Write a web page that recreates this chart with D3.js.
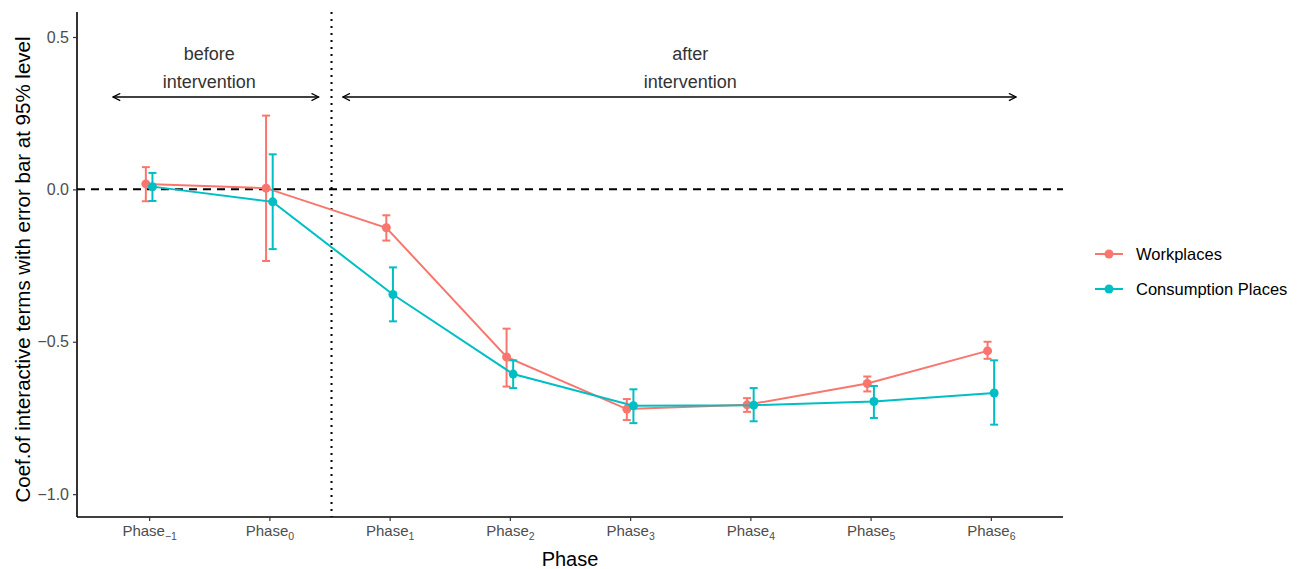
<!DOCTYPE html>
<html>
<head>
<meta charset="utf-8">
<script src="https://cdn.jsdelivr.net/npm/d3@7"></script>
<style>
  body { margin: 0; background: #fff; }
  svg { font-family: "Liberation Sans", Arial, sans-serif; }
</style>
</head>
<body>
<div id="chart"></div>
<script>
// categories and subscripts
var phases = ["-1", "0", "1", "2", "3", "4", "5", "6"];
var phaseSubs = ["\u22121", "0", "1", "2", "3", "4", "5", "6"];

// Workplaces: estimate, lower, upper
var workEst = [0.018, 0.004, -0.126, -0.550, -0.721, -0.707, -0.637, -0.530];
var workLo  = [-0.039, -0.235, -0.168, -0.647, -0.757, -0.730, -0.663, -0.556];
var workHi  = [0.073, 0.242, -0.085, -0.457, -0.688, -0.685, -0.614, -0.500];

// Consumption Places
var consEst = [0.009, -0.041, -0.345, -0.606, -0.710, -0.708, -0.696, -0.668];
var consLo  = [-0.038, -0.196, -0.433, -0.652, -0.767, -0.761, -0.750, -0.772];
var consHi  = [0.054, 0.115, -0.256, -0.561, -0.656, -0.652, -0.645, -0.561];

var seriesNames = ["Workplaces", "Consumption Places"];
var seriesColors = ["#F8766D", "#00BFC4"];
var yTicks = [0.5, 0.0, -0.5, -1.0];

var width = 1299, height = 569;
var pLeft = 77, pRight = 1063, pTop = 12, pBottom = 517;

var svg = d3.select("#chart").append("svg")
  .attr("width", width)
  .attr("height", height);

// x: discrete positions with ggplot-like 0.6 expansion
var x = d3.scaleLinear()
  .domain([-0.6, phases.length - 1 + 0.6])
  .range([pLeft, pRight]);

var y = d3.scaleLinear()
  .domain([-1.075, 0.582])
  .range([pBottom, pTop]);

var dodge = 3.3;

var series = [
  {name: seriesNames[0], color: seriesColors[0], est: workEst, lo: workLo, hi: workHi, off: -dodge},
  {name: seriesNames[1], color: seriesColors[1], est: consEst, lo: consLo, hi: consHi, off: dodge}
];

// reference lines
svg.append("line")
  .attr("x1", pLeft).attr("x2", pRight)
  .attr("y1", y(0)).attr("y2", y(0))
  .attr("stroke", "#000").attr("stroke-width", 2)
  .attr("stroke-dasharray", "8,6");

svg.append("line")
  .attr("x1", x(1.5) + 2).attr("x2", x(1.5) + 2)
  .attr("y1", pTop).attr("y2", pBottom)
  .attr("stroke", "#000").attr("stroke-width", 2)
  .attr("stroke-dasharray", "2,5");

// series
series.forEach(function(s) {
  var g = svg.append("g");
  var pts = phases.map(function(p, i) {
    return {i: i, est: s.est[i], lo: s.lo[i], hi: s.hi[i]};
  });

  var line = d3.line()
    .x(d => x(d.i) + s.off)
    .y(d => y(d.est));

  g.append("path")
    .datum(pts)
    .attr("d", line)
    .attr("fill", "none")
    .attr("stroke", s.color)
    .attr("stroke-width", 2);

  var eb = g.selectAll(".eb").data(pts).enter().append("g");
  eb.append("line")
    .attr("x1", d => x(d.i) + s.off).attr("x2", d => x(d.i) + s.off)
    .attr("y1", d => y(d.lo)).attr("y2", d => y(d.hi))
    .attr("stroke", s.color).attr("stroke-width", 2);
  eb.append("line")
    .attr("x1", d => x(d.i) + s.off - 4).attr("x2", d => x(d.i) + s.off + 4)
    .attr("y1", d => y(d.lo)).attr("y2", d => y(d.lo))
    .attr("stroke", s.color).attr("stroke-width", 2);
  eb.append("line")
    .attr("x1", d => x(d.i) + s.off - 4).attr("x2", d => x(d.i) + s.off + 4)
    .attr("y1", d => y(d.hi)).attr("y2", d => y(d.hi))
    .attr("stroke", s.color).attr("stroke-width", 2);

  g.selectAll("circle").data(pts).enter().append("circle")
    .attr("cx", d => x(d.i) + s.off)
    .attr("cy", d => y(d.est))
    .attr("r", 4.5)
    .attr("fill", s.color);
});

// axes
var yAxis = d3.axisLeft(y).tickValues(yTicks).tickSize(4).tickPadding(4)
  .tickFormat(d => d3.format(".1f")(d).replace("-", "\u2212"));
var gy = svg.append("g").attr("transform", "translate(" + pLeft + ",0)").call(yAxis);
gy.select(".domain").attr("d", "M0," + pTop + "V" + pBottom).attr("stroke", "#000").attr("stroke-width", 1.6);
gy.selectAll(".tick line").attr("stroke", "#333").attr("stroke-width", 1.2);
gy.selectAll(".tick text").attr("fill", "#4D4D4D").style("font-size", "16px")
  .style("font-family", "'Liberation Sans', Arial, sans-serif");

var xAxis = d3.axisBottom(x).tickValues(d3.range(phases.length)).tickSize(4).tickPadding(4)
  .tickFormat(() => "");
var gx = svg.append("g").attr("transform", "translate(0," + pBottom + ")").call(xAxis);
gx.select(".domain").attr("d", "M" + pLeft + ",0H" + pRight).attr("stroke", "#000").attr("stroke-width", 1.6);
gx.selectAll(".tick line").attr("stroke", "#333").attr("stroke-width", 1.2);
gx.selectAll(".tick text").each(function(d) {
  var t = d3.select(this)
    .attr("fill", "#4D4D4D")
    .attr("dy", "0.71em")
    .style("font-size", "15px")
    .style("font-family", "'Liberation Sans', Arial, sans-serif");
  t.text(null);
  t.append("tspan").text("Phase");
  t.append("tspan").text(phaseSubs[d]).attr("font-size", "10.5px").attr("dy", "4");
});

// axis titles
svg.append("text")
  .attr("x", (pLeft + pRight) / 2).attr("y", 566)
  .attr("text-anchor", "middle")
  .style("font-size", "20px")
  .attr("fill", "#000")
  .text("Phase");

svg.append("text")
  .attr("transform", "translate(30," + ((pTop + pBottom) / 2 + 5) + ") rotate(-90)")
  .attr("text-anchor", "middle")
  .style("font-size", "20.5px")
  .attr("fill", "#000")
  .text("Coef.of interactive terms with error bar at 95% level");

// annotations
var defs = svg.append("defs");
defs.append("marker")
  .attr("id", "arr")
  .attr("viewBox", "0 0 10 10")
  .attr("refX", 9).attr("refY", 5)
  .attr("markerWidth", 9).attr("markerHeight", 9)
  .attr("markerUnits", "userSpaceOnUse")
  .attr("orient", "auto-start-reverse")
  .append("path")
  .attr("d", "M1,1 L9,5 L1,9")
  .attr("fill", "none")
  .attr("stroke", "#000")
  .attr("stroke-width", 1.4);

var arrows = [[-0.3, 1.41], [1.61, 7.21]];
var arrowY = 97;
arrows.forEach(function(a) {
  svg.append("line")
    .attr("x1", x(a[0])).attr("x2", x(a[1]))
    .attr("y1", arrowY).attr("y2", arrowY)
    .attr("stroke", "#000").attr("stroke-width", 1.6)
    .attr("marker-start", "url(#arr)")
    .attr("marker-end", "url(#arr)");
});

var notes = [
  {x: 0.5, lines: ["before", "intervention"]},
  {x: 4.5, lines: ["after", "intervention"]}
];
notes.forEach(function(n) {
  n.lines.forEach(function(l, k) {
    svg.append("text")
      .attr("x", x(n.x)).attr("y", 60 + k * 28)
      .attr("text-anchor", "middle")
      .style("font-size", "18px")
      .attr("fill", "#333")
      .text(l);
  });
});

// legend
var legend = svg.append("g").attr("transform", "translate(1095,254)");
series.forEach(function(s, i) {
  var g = legend.append("g").attr("transform", "translate(0," + (i * 35) + ")");
  g.append("line").attr("x1", 0).attr("x2", 28).attr("y1", 0).attr("y2", 0)
    .attr("stroke", s.color).attr("stroke-width", 2);
  g.append("circle").attr("cx", 14).attr("cy", 0).attr("r", 4.5).attr("fill", s.color);
  g.append("text").attr("x", 41).attr("y", 6)
    .style("font-size", "16.5px")
    .attr("fill", "#000")
    .text(s.name);
});
</script>
</body>
</html>
